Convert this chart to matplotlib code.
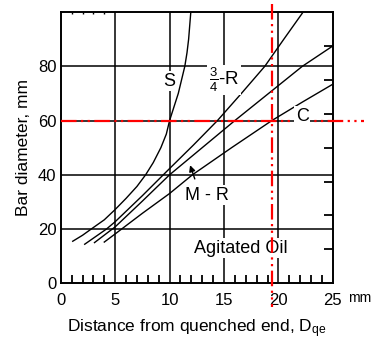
import matplotlib.pyplot as plt
import numpy as np

plt.rcParams['font.family'] = ['Liberation Sans', 'DejaVu Sans']
plt.rcParams['mathtext.fontset'] = 'custom'
plt.rcParams['mathtext.rm'] = 'Liberation Sans'
plt.rcParams['mathtext.it'] = 'Liberation Sans'

# curves: (distance, bar diameter)
s_x = [1.1, 2.0, 2.8, 4.0, 5.0, 6.0, 7.0, 7.8, 8.5, 9.2, 9.7, 10.0,
       10.4, 10.8, 11.1, 11.4, 11.6, 11.75, 11.85, 11.95]
s_y = [15.5, 17.7, 20, 23.4, 27.2, 31.3, 35.7, 40, 44.5, 50, 55, 60,
       65, 70, 75, 80, 85, 90, 95, 100]

r34_x = [2.2, 4.2, 5.0, 7.5, 10.0, 12.2, 14.4, 16.6, 18.75, 20.5, 22.2]
r34_y = [14.4, 20, 22.7, 32.3, 42.3, 51.0, 60, 70, 80, 90, 99.6]

mr_x = [3.1, 5.0, 7.5, 10.0, 13.0, 16.0, 19.1, 22.2, 25.0]
mr_y = [15.0, 20.8, 30.3, 40, 50, 60, 70, 80, 87.5]

c_x = [4.0, 5.0, 7.5, 10.0, 12.1, 15.7, 19.4, 22.2, 25.0]
c_y = [15.2, 18.2, 25.8, 33.1, 40, 50, 60, 66.8, 73.4]

x_major = [0, 5, 10, 15, 20, 25]
x_minor = [i for i in range(1, 25) if i % 5]
y_major = [0, 20, 40, 60, 80]
right_ticks = [12.5, 25, 37.5, 50, 62.5, 75, 87.5]
top_marks = [1, 2, 3, 4]

ref_d = 19.4
ref_bar = 60

fig = plt.figure(figsize=(3.87, 3.44), dpi=100)
ax = fig.add_axes([0.157, 0.1765, 0.703, 0.7885])
ax.set_xlim(0, 25)
ax.set_ylim(0, 100)

# grid
for gx in x_major[1:-1]:
    ax.axvline(gx, color='black', lw=1.1, zorder=1)
for gy in y_major[1:]:
    ax.axhline(gy, color='black', lw=1.1, zorder=1)

for xs, ys in [(s_x, s_y), (r34_x, r34_y), (mr_x, mr_y), (c_x, c_y)]:
    ax.plot(xs, ys, color='black', lw=1.0, zorder=3)

# reference lines
dash = (0, (7, 2, 1, 2, 1, 2))
ax.plot([0, 27.9], [ref_bar, ref_bar], color='red', lw=1.6, ls=dash,
        clip_on=False, zorder=4)
ax.plot([ref_d, ref_d], [102.8, -8.6], color='red', lw=1.6, ls=dash,
        clip_on=False, zorder=4)

box = dict(facecolor='white', edgecolor='none', pad=1)
ax.text(9.95, 74.5, 'S', fontsize=13, ha='center', va='center',
        bbox=box, zorder=5)
ax.text(15.0, 75, r'$\frac{3}{4}$-R', fontsize=13.5, ha='center',
        va='center', bbox=box, zorder=5)
ax.text(22.2, 61.6, 'C', fontsize=13, ha='center', va='center',
        bbox=box, zorder=5)
ax.text(13.45, 32.5, 'M - R', fontsize=13, ha='center', va='center',
        bbox=box, zorder=2)
ax.text(16.57, 12.9, 'Agitated Oil', fontsize=13, ha='center',
        va='center', bbox=box, zorder=2)
ax.annotate('', xy=(11.8, 44.5), xytext=(12.4, 37.5),
            arrowprops=dict(arrowstyle='-|>', color='black', lw=1.0,
                            mutation_scale=9), zorder=5)

# inward tick marks (bottom every unit, right every 12.5, top few)
ax.vlines(x_minor, 0, 3.0, color='black', lw=1.3, zorder=6)
ax.vlines(top_marks, 99.2, 100, color='black', lw=1.0)
ax.hlines(right_ticks, 24.2, 25, color='black', lw=1.3, zorder=6)

ax.set_xticks(x_major)
ax.set_yticks(y_major)
ax.tick_params(axis='x', length=0, pad=7, labelsize=12)
ax.tick_params(axis='y', length=0, pad=3, labelsize=12)

for sp in ax.spines.values():
    sp.set_linewidth(1.4)

ax.text(27.5, -5.4, 'mm', fontsize=10, ha='center', va='center',
        clip_on=False)
ax.set_xlabel(r'Distance from quenched end, D$_{\mathrm{qe}}$', fontsize=12.5,
              labelpad=7)
ax.set_ylabel('Bar diameter, mm', fontsize=12.5, labelpad=5)

fig.savefig('out.png', dpi=100)
